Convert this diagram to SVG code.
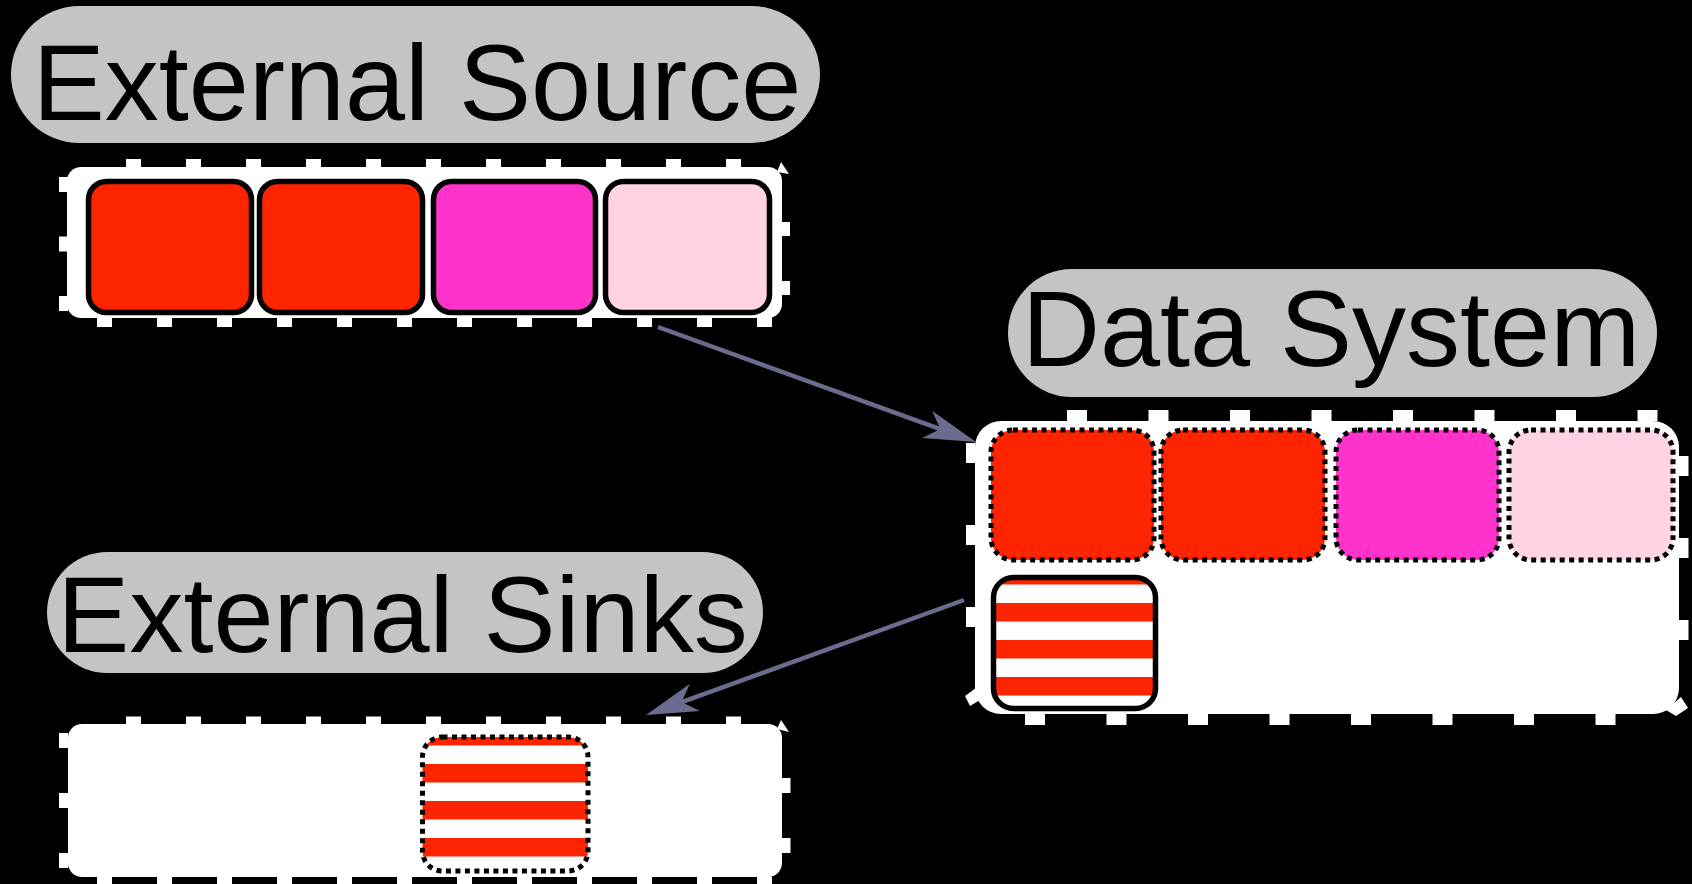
<svg xmlns="http://www.w3.org/2000/svg" width="1692" height="884" viewBox="0 0 1692 884">
<style>
.pill{fill:#c4c4c4}
.label{font-family:"Liberation Sans",Arial,Helvetica,sans-serif;font-size:108px;fill:#000;text-anchor:middle}
.tape{fill:#fff}
.tab{stroke:#fff;fill:none}
.solid{stroke:#000;stroke-width:5.5}
.dotted{stroke:#000;stroke-width:5;stroke-dasharray:5 4.5}
.red{fill:#ff2400}
.mag{fill:#ff33cc}
.pink{fill:#ffd3e3}
.conn{stroke:#6b6b8e;stroke-width:4.5;fill:none;marker-end:url(#head)}
</style>
<defs>
<marker id="head" markerUnits="userSpaceOnUse" markerWidth="56" markerHeight="32" viewBox="0 0 56 32" refX="14" refY="16" orient="auto">
<path d="M52,16 L0,1.5 L14,16 L0,30.5 Z" fill="#6b6b8e"/>
</marker>
<pattern id="stripesA" patternUnits="userSpaceOnUse" x="0" y="566" width="40" height="37">
<rect width="40" height="37" fill="#fff"/>
<rect width="40" height="18.5" fill="#ff2400"/>
</pattern>
<pattern id="stripesB" patternUnits="userSpaceOnUse" x="0" y="727" width="40" height="37">
<rect width="40" height="37" fill="#fff"/>
<rect width="40" height="18.5" fill="#ff2400"/>
</pattern>
</defs>
<rect x="0" y="0" width="1692" height="884" fill="#000"/>

<g id="external-source">
<rect class="pill" x="11" y="6" width="809" height="137" rx="68.5"/>
<text class="label" x="417" y="120">External Source</text>
<rect class="tape" x="67" y="167" width="715" height="151" rx="14"/>
<line class="tab" x1="126" y1="163.5" x2="741" y2="163.5" stroke-width="9" stroke-dasharray="15 45"/>
<line class="tab" x1="97" y1="322" x2="772" y2="322" stroke-width="10" stroke-dasharray="15 45"/>
<line class="tab" x1="63.5" y1="177" x2="63.5" y2="311" stroke-width="9" stroke-dasharray="15 44.5"/>
<line class="tab" x1="785.5" y1="222" x2="785.5" y2="296" stroke-width="9" stroke-dasharray="14 45"/>
<polygon class="tape" points="777,172 781,162 789,174"/>
<rect class="solid red" x="88.5" y="181.5" width="163" height="131" rx="18"/>
<rect class="solid red" x="259.5" y="181.5" width="163" height="131" rx="18"/>
<rect class="solid mag" x="433.5" y="181.5" width="162" height="131" rx="18"/>
<rect class="solid pink" x="605.5" y="181.5" width="164" height="131" rx="18"/>
</g>

<g id="data-system">
<rect class="pill" x="1008" y="269" width="649" height="128" rx="64"/>
<text class="label" x="1331" y="366">Data System</text>
<rect class="tape" x="975" y="421" width="704" height="293" rx="26"/>
<line class="tab" x1="1067" y1="415.5" x2="1658" y2="415.5" stroke-width="11" stroke-dasharray="20 61.5"/>
<line class="tab" x1="1025" y1="719" x2="1616" y2="719" stroke-width="12" stroke-dasharray="20 61.5"/>
<line class="tab" x1="970.5" y1="443" x2="970.5" y2="628" stroke-width="9" stroke-dasharray="20 62"/>
<line class="tab" x1="1683.5" y1="456" x2="1683.5" y2="641" stroke-width="10" stroke-dasharray="20 62"/>
<polygon class="tape" points="976,688 965,696 970,706 980,700"/>
<polygon class="tape" points="1666,710 1681,697 1688,708 1676,716"/>
<rect class="dotted red" x="991" y="430" width="163" height="130" rx="22"/>
<rect class="dotted red" x="1161" y="430" width="164" height="130" rx="22"/>
<rect class="dotted mag" x="1336" y="430" width="163" height="130" rx="22"/>
<rect class="dotted pink" x="1509" y="430" width="164" height="130" rx="22"/>
<rect class="solid" x="993.5" y="577.5" width="162" height="131" rx="20" fill="url(#stripesA)"/>
</g>

<g id="external-sinks">
<rect class="pill" x="47" y="552" width="716" height="121" rx="60.5"/>
<text class="label" x="402.5" y="652">External Sinks</text>
<rect class="tape" x="68" y="724" width="714" height="153" rx="14"/>
<line class="tab" x1="126" y1="720.5" x2="741" y2="720.5" stroke-width="8" stroke-dasharray="15 45"/>
<line class="tab" x1="97" y1="880.5" x2="772" y2="880.5" stroke-width="8" stroke-dasharray="15 45"/>
<line class="tab" x1="63.5" y1="733" x2="63.5" y2="869" stroke-width="9" stroke-dasharray="15 45"/>
<line class="tab" x1="786" y1="778" x2="786" y2="853" stroke-width="9" stroke-dasharray="15 45"/>
<polygon class="tape" points="777,729 781,720 789,732"/>
<rect class="dotted" x="422.5" y="737" width="165.5" height="134" rx="20" fill="url(#stripesB)"/>
</g>

<g id="connectors">
<line class="conn" x1="658" y1="327" x2="940.3" y2="429.1"/>
<line class="conn" x1="964" y1="600" x2="681.7" y2="702.1"/>
</g>
</svg>
